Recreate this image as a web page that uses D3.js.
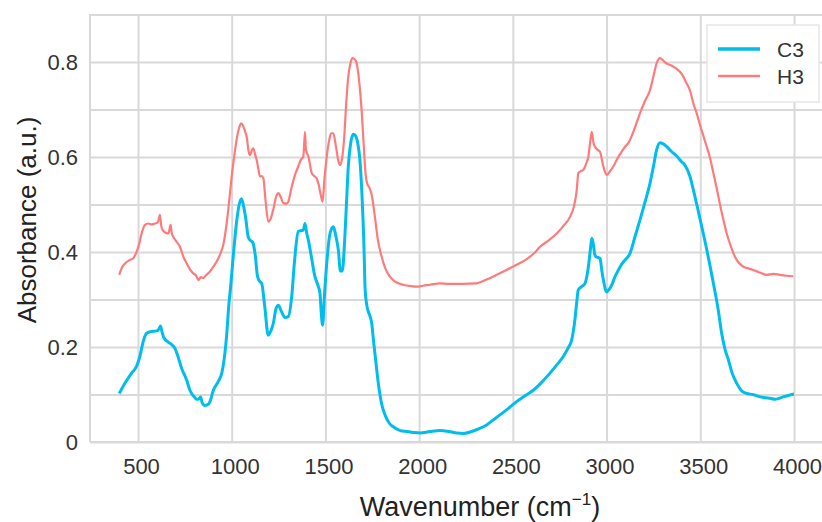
<!DOCTYPE html>
<html>
<head>
<meta charset="utf-8">
<script src="https://cdn.jsdelivr.net/npm/d3@7"></script>
<style>
  html, body { margin: 0; padding: 0; background: #fff; }
  svg { display: block; font-family: "Liberation Sans", Arial, sans-serif; }
</style>
</head>
<body>
<svg id="chart" width="822" height="522"></svg>
<script>
// FTIR spectra: [wavenumber (cm-1), absorbance (a.u.)]
const c3Spectrum = [
  [400,0.102],[431,0.124],[466,0.145],[493,0.160],[510,0.180],[528,0.212],[546,0.229],[565,0.232],
  [600,0.234],[612,0.238],[620,0.244],[628,0.232],[637,0.220],[662,0.210],[680,0.205],[697,0.197],
  [715,0.178],[733,0.155],[760,0.130],[777,0.109],[800,0.095],[813,0.090],[822,0.090],[834,0.095],
  [842,0.083],[857,0.077],[870,0.078],[884,0.085],[902,0.109],[928,0.127],[947,0.145],[960,0.175],
  [973,0.225],[985,0.290],[995,0.330],[1008,0.390],[1025,0.460],[1040,0.500],[1052,0.512],[1064,0.495],
  [1075,0.470],[1088,0.432],[1098,0.425],[1112,0.421],[1125,0.395],[1138,0.348],[1150,0.338],[1160,0.334],
  [1175,0.290],[1195,0.225],[1210,0.235],[1222,0.250],[1236,0.280],[1249,0.288],[1265,0.275],[1284,0.262],
  [1302,0.264],[1320,0.306],[1335,0.380],[1355,0.443],[1370,0.445],[1382,0.446],[1391,0.460],[1400,0.440],
  [1409,0.425],[1425,0.390],[1444,0.348],[1460,0.330],[1471,0.313],[1478,0.270],[1485,0.246],[1495,0.310],
  [1507,0.376],[1525,0.440],[1542,0.453],[1555,0.435],[1569,0.404],[1580,0.360],[1590,0.360],[1602,0.420],
  [1612,0.500],[1622,0.580],[1635,0.630],[1649,0.648],[1660,0.645],[1672,0.630],[1684,0.594],[1695,0.520],
  [1705,0.420],[1712,0.320],[1722,0.285],[1735,0.268],[1747,0.250],[1756,0.215],[1766,0.180],[1782,0.124],
  [1800,0.080],[1820,0.055],[1840,0.040],[1862,0.032],[1900,0.024],[1934,0.022],[1970,0.020],[2004,0.019],
  [2058,0.022],[2111,0.024],[2160,0.022],[2200,0.019],[2236,0.018],[2280,0.022],[2320,0.028],[2360,0.036],
  [2400,0.048],[2431,0.057],[2480,0.072],[2520,0.085],[2560,0.096],[2609,0.109],[2650,0.124],[2698,0.145],
  [2740,0.165],[2769,0.180],[2795,0.198],[2814,0.215],[2831,0.257],[2841,0.295],[2849,0.320],[2867,0.327],
  [2885,0.334],[2903,0.369],[2915,0.410],[2921,0.429],[2929,0.418],[2937,0.395],[2944,0.390],[2965,0.387],
  [2975,0.360],[2983,0.341],[3001,0.316],[3015,0.322],[3027,0.330],[3045,0.348],[3063,0.362],[3080,0.374],
  [3098,0.383],[3125,0.397],[3150,0.430],[3178,0.467],[3205,0.505],[3232,0.545],[3250,0.580],[3267,0.615],
  [3285,0.630],[3300,0.628],[3321,0.622],[3345,0.612],[3374,0.602],[3400,0.590],[3418,0.583],[3445,0.559],
  [3463,0.531],[3490,0.485],[3516,0.439],[3545,0.385],[3570,0.334],[3595,0.280],[3614,0.229],[3632,0.195],
  [3650,0.173],[3670,0.145],[3694,0.124],[3720,0.108],[3748,0.102],[3780,0.100],[3819,0.095],[3850,0.093],
  [3872,0.092],[3900,0.090],[3943,0.095],[3970,0.098],[4000,0.101]
];

const h3Spectrum = [
  [400,0.352],[415,0.368],[431,0.376],[455,0.383],[475,0.387],[490,0.398],[502,0.411],[520,0.440],
  [537,0.457],[555,0.460],[573,0.458],[590,0.460],[605,0.462],[617,0.478],[624,0.455],[632,0.446],
  [650,0.440],[662,0.439],[674,0.457],[680,0.440],[688,0.432],[705,0.422],[724,0.411],[742,0.390],
  [760,0.376],[780,0.362],[795,0.355],[810,0.350],[822,0.341],[835,0.347],[848,0.345],[865,0.352],
  [884,0.359],[900,0.368],[920,0.380],[940,0.397],[955,0.415],[973,0.460],[987,0.509],[1000,0.559],
  [1013,0.600],[1026,0.636],[1040,0.662],[1050,0.671],[1058,0.668],[1070,0.655],[1080,0.642],[1090,0.612],
  [1098,0.604],[1108,0.615],[1115,0.618],[1125,0.605],[1133,0.594],[1142,0.575],[1151,0.559],[1160,0.560],
  [1169,0.555],[1180,0.510],[1195,0.464],[1208,0.470],[1222,0.490],[1236,0.515],[1249,0.524],[1262,0.515],
  [1276,0.503],[1293,0.502],[1302,0.506],[1320,0.537],[1340,0.565],[1355,0.580],[1370,0.595],[1382,0.601],
  [1391,0.653],[1396,0.615],[1410,0.600],[1427,0.566],[1440,0.560],[1453,0.555],[1465,0.540],[1471,0.528],
  [1478,0.515],[1485,0.506],[1495,0.555],[1507,0.601],[1520,0.635],[1530,0.650],[1542,0.650],[1555,0.625],
  [1570,0.590],[1578,0.583],[1590,0.600],[1600,0.640],[1612,0.720],[1622,0.769],[1635,0.800],[1645,0.808],
  [1658,0.805],[1667,0.797],[1680,0.760],[1693,0.699],[1705,0.620],[1714,0.565],[1722,0.545],[1735,0.535],
  [1747,0.520],[1764,0.474],[1780,0.425],[1800,0.390],[1820,0.365],[1844,0.348],[1870,0.338],[1915,0.331],
  [1960,0.328],[1987,0.327],[2020,0.329],[2058,0.331],[2111,0.334],[2160,0.333],[2230,0.333],[2307,0.334],
  [2360,0.342],[2414,0.352],[2470,0.363],[2520,0.373],[2574,0.385],[2620,0.400],[2645,0.411],[2690,0.424],
  [2734,0.439],[2770,0.455],[2805,0.474],[2825,0.495],[2841,0.531],[2849,0.566],[2862,0.570],[2876,0.573],
  [2890,0.585],[2903,0.601],[2912,0.630],[2921,0.653],[2930,0.630],[2938,0.622],[2952,0.615],[2965,0.611],
  [2980,0.585],[2992,0.568],[3001,0.562],[3018,0.570],[3036,0.580],[3058,0.597],[3080,0.611],[3100,0.622],
  [3116,0.629],[3145,0.655],[3178,0.692],[3205,0.718],[3232,0.741],[3250,0.770],[3267,0.797],[3285,0.808],
  [3294,0.806],[3315,0.798],[3338,0.794],[3365,0.788],[3401,0.775],[3427,0.755],[3445,0.740],[3465,0.710],
  [3481,0.692],[3498,0.668],[3520,0.640],[3534,0.622],[3552,0.598],[3570,0.566],[3590,0.530],[3605,0.500],
  [3625,0.465],[3641,0.439],[3665,0.410],[3685,0.390],[3700,0.380],[3730,0.369],[3760,0.365],[3783,0.362],
  [3810,0.358],[3854,0.352],[3890,0.354],[3925,0.352],[3960,0.350],[3996,0.349]
];

const seriesNames = ["C3", "H3"];
const seriesColors = ["#00BDEB", "#FF7B7B"];
const xTickValues = [500, 1000, 1500, 2000, 2500, 3000, 3500, 4000];
const yTickValues = [0, 0.2, 0.4, 0.6, 0.8];
const yGridValues = [0, 0.1, 0.2, 0.3, 0.4, 0.5, 0.6, 0.7, 0.8, 0.9];

const svg = d3.select("#chart");
const plot = { left: 90, right: 822, top: 15, bottom: 442 };

const x = d3.scaleLinear().domain([500, 4000]).range([138, 794]);
const y = d3.scaleLinear().domain([0, 0.8]).range([442, 62]);

const gridColor = "#d9d9d9";
const labelFont = "Liberation Sans, Arial, sans-serif";

// horizontal grid
svg.append("g")
  .attr("transform", `translate(${plot.left},0)`)
  .call(d3.axisLeft(y).tickValues(yGridValues).tickSize(-(plot.right - plot.left)).tickFormat(""))
  .call(g => g.select(".domain").remove())
  .call(g => g.selectAll(".tick line").attr("stroke", gridColor).attr("stroke-width", 2));

// vertical grid
svg.append("g")
  .attr("transform", `translate(0,${plot.bottom})`)
  .call(d3.axisBottom(x).tickValues(xTickValues).tickSize(-(plot.bottom - plot.top)).tickFormat(""))
  .call(g => g.select(".domain").remove())
  .call(g => g.selectAll(".tick line").attr("stroke", gridColor).attr("stroke-width", 2));

// frame lines on the left and bottom
svg.append("line").attr("x1", plot.left).attr("x2", plot.left).attr("y1", plot.top - 1).attr("y2", plot.bottom)
  .attr("stroke", gridColor).attr("stroke-width", 2);
svg.append("line").attr("x1", plot.left).attr("x2", plot.right).attr("y1", plot.bottom).attr("y2", plot.bottom)
  .attr("stroke", gridColor).attr("stroke-width", 2);

// tick labels
svg.append("g")
  .attr("transform", `translate(0,${plot.bottom})`)
  .call(d3.axisBottom(x).tickValues(xTickValues).tickSize(0).tickPadding(18).tickFormat(d3.format("d")))
  .call(g => g.select(".domain").remove())
  .call(g => g.selectAll("text").attr("font-size", 22).attr("fill", "#333")
    .attr("font-family", labelFont).attr("dx", 3).attr("dy", "0.62em"));

svg.append("g")
  .attr("transform", `translate(${plot.left},0)`)
  .call(d3.axisLeft(y).tickValues(yTickValues).tickSize(0).tickPadding(12)
    .tickFormat(d => d === 0 ? "0" : d3.format(".1f")(d)))
  .call(g => g.select(".domain").remove())
  .call(g => g.selectAll("text").attr("font-size", 22).attr("fill", "#333").attr("font-family", labelFont));

// spectra
const line = d3.line()
  .x(d => x(d[0]))
  .y(d => y(d[1]))
  .curve(d3.curveMonotoneX);

svg.append("path").datum(h3Spectrum)
  .attr("fill", "none").attr("stroke", seriesColors[1]).attr("stroke-width", 2.2)
  .attr("stroke-linejoin", "round").attr("d", line);
svg.append("path").datum(c3Spectrum)
  .attr("fill", "none").attr("stroke", seriesColors[0]).attr("stroke-width", 3)
  .attr("stroke-linejoin", "round").attr("d", line);

// axis titles
const xTitle = svg.append("text")
  .attr("x", 480).attr("y", 516)
  .attr("text-anchor", "middle")
  .attr("font-size", 27).attr("fill", "#222");
xTitle.append("tspan").text("Wavenumber (cm");
xTitle.append("tspan").text("\u22121").attr("font-size", 17).attr("dy", -11);
xTitle.append("tspan").text(")").attr("dy", 11);

svg.append("text")
  .attr("transform", "translate(36,220) rotate(-90)")
  .attr("text-anchor", "middle")
  .attr("font-size", 26).attr("fill", "#222")
  .text("Absorbance (a.u.)");

// legend
const legend = svg.append("g");
legend.append("rect")
  .attr("x", 707).attr("y", 25).attr("width", 112).attr("height", 77)
  .attr("fill", "#fff").attr("stroke", "#e6e6e6").attr("stroke-width", 1.5);
seriesNames.forEach((name, i) => {
  const ly = 49 + i * 27;
  legend.append("line")
    .attr("x1", 718).attr("x2", 760).attr("y1", ly).attr("y2", ly)
    .attr("stroke", seriesColors[i]).attr("stroke-width", i === 0 ? 3.5 : 2.5);
  legend.append("text")
    .attr("x", 777).attr("y", ly).attr("dy", "0.36em")
    .attr("font-size", 21).attr("fill", "#333")
    .text(name);
});
</script>
</body>
</html>
